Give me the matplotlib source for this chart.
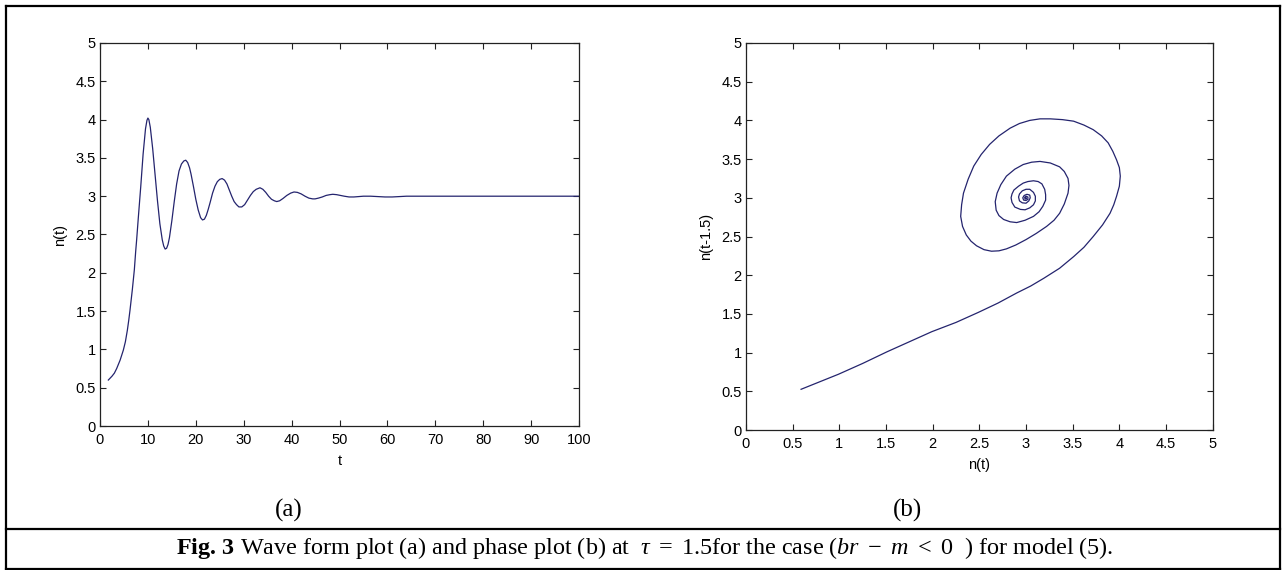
import matplotlib
matplotlib.use('Agg')
import matplotlib.pyplot as plt
from matplotlib.lines import Line2D
from matplotlib.ticker import FuncFormatter

# ---------------- data ----------------
# (a) wave form n(t)
t_vals = [1.74, 2.5, 3.0, 3.48, 4.2, 4.87, 5.3, 5.71, 6.0, 6.26, 6.75, 7.17, 7.45, 7.65,
          8.0, 8.5, 9.0, 9.5, 9.8, 10.0, 10.2, 10.5, 11.0, 11.5, 12.0, 12.5, 13.0, 13.3,
          13.6, 13.9, 14.2, 14.5, 15.0, 15.5, 16.0, 16.5, 17.0, 17.5, 17.9, 18.3, 18.7,
          19.0, 19.5, 20.0, 20.5, 21.0, 21.4, 21.8, 22.2, 22.6, 23.0, 23.5, 24.0, 24.5,
          25.0, 25.5, 26.0, 26.5, 27.0, 27.5, 28.0, 28.5, 29.0, 29.6, 30.2, 30.8, 31.4,
          32.0, 32.6, 33.4, 34.0, 34.6, 35.2, 35.8, 36.4, 36.9, 37.5, 38.2, 39.0, 39.8,
          40.5, 41.2, 42.0, 42.8, 43.6, 44.4, 44.9, 45.6, 46.4, 47.2, 48.0, 48.6, 49.4,
          50.2, 51.0, 52.0, 53.0, 54.0, 55.0, 56.5, 58.0, 59.5, 61.0, 62.5, 64.0, 66.0,
          70.0, 80.0, 90.0, 100.0]
n_vals = [0.60, 0.65, 0.69, 0.75, 0.86, 0.99, 1.10, 1.25, 1.38, 1.51, 1.78, 2.04, 2.28, 2.43,
          2.72, 3.12, 3.55, 3.88, 3.99, 4.02, 4.00, 3.90, 3.62, 3.28, 2.94, 2.64, 2.43, 2.35,
          2.31, 2.32, 2.37, 2.46, 2.68, 2.93, 3.16, 3.33, 3.42, 3.46, 3.47, 3.44, 3.37,
          3.29, 3.13, 2.96, 2.82, 2.72, 2.69, 2.70, 2.75, 2.83, 2.92, 3.04, 3.13, 3.19,
          3.22, 3.23, 3.21, 3.16, 3.08, 3.00, 2.93, 2.89, 2.86, 2.86, 2.89, 2.95, 3.01,
          3.06, 3.09, 3.11, 3.09, 3.05, 3.00, 2.96, 2.94, 2.93, 2.94, 2.97, 3.01, 3.04,
          3.055, 3.05, 3.03, 3.00, 2.975, 2.965, 2.965, 2.975, 2.99, 3.01, 3.02, 3.025, 3.02,
          3.01, 3.00, 2.99, 2.99, 2.995, 3.00, 3.00, 2.995, 2.99, 2.99, 2.995, 3.00, 3.00,
          3.00, 3.00, 3.00, 3.00]

# (b) phase plot: n(t) against n(t-1.5)
phase_x = [0.59, 0.99, 1.25, 1.51, 1.75, 1.99, 2.25, 2.49, 2.70, 2.90, 3.05, 3.19,
           3.36, 3.51, 3.62, 3.72, 3.82, 3.90, 3.94, 3.97, 4.00, 4.01, 4.00, 3.97, 3.93,
           3.88, 3.81, 3.72, 3.62, 3.51, 3.39, 3.26, 3.15, 3.04, 2.93, 2.83, 2.71, 2.61,
           2.52, 2.44, 2.38, 2.33, 2.31, 2.30, 2.32, 2.36, 2.41, 2.47, 2.55, 2.63, 2.71,
           2.79, 2.89, 3.00, 3.11, 3.22, 3.30, 3.36, 3.41, 3.45, 3.46, 3.45, 3.41, 3.36,
           3.26, 3.15, 3.06, 2.97, 2.88, 2.79, 2.73, 2.69, 2.67, 2.68, 2.71, 2.76, 2.83,
           2.90, 2.99, 3.08, 3.14, 3.18, 3.21, 3.21, 3.20, 3.17, 3.13, 3.08, 3.02, 2.97,
           2.92, 2.87, 2.85, 2.84, 2.85, 2.88, 2.94, 2.99, 3.04, 3.08, 3.10, 3.10, 3.08,
           3.04, 3.00, 2.96, 2.93, 2.92, 2.93, 2.96, 3.00, 3.03, 3.045, 3.04, 3.01, 2.98,
           2.965, 2.975, 3.00, 3.02, 3.02, 3.00, 2.985, 2.99, 3.005, 3.00]
phase_y = [0.526, 0.72, 0.86, 1.01, 1.14, 1.27, 1.39, 1.52, 1.64, 1.77, 1.86, 1.96,
           2.09, 2.24, 2.36, 2.50, 2.65, 2.80, 2.91, 3.02, 3.15, 3.28, 3.39, 3.49, 3.60,
           3.71, 3.80, 3.88, 3.94, 3.99, 4.01, 4.02, 4.02, 4.00, 3.96, 3.90, 3.80, 3.69,
           3.56, 3.41, 3.24, 3.06, 2.91, 2.76, 2.63, 2.52, 2.44, 2.38, 2.33, 2.31, 2.315,
           2.34, 2.39, 2.46, 2.54, 2.63, 2.71, 2.80, 2.92, 3.06, 3.16, 3.25, 3.34, 3.40,
           3.45, 3.47, 3.46, 3.43, 3.37, 3.28, 3.17, 3.06, 2.95, 2.84, 2.77, 2.72, 2.69,
           2.68, 2.71, 2.76, 2.82, 2.89, 2.97, 3.04, 3.11, 3.18, 3.21, 3.22, 3.21, 3.19,
           3.15, 3.10, 3.05, 3.00, 2.94, 2.88, 2.85, 2.845, 2.87, 2.91, 2.96, 3.02, 3.07,
           3.11, 3.11, 3.09, 3.05, 3.01, 2.96, 2.935, 2.93, 2.96, 3.00, 3.035, 3.045, 3.03,
           3.00, 2.97, 2.965, 2.98, 3.01, 3.02, 3.005, 2.985, 2.99, 3.00]

wave_ticks_x = [0, 10, 20, 30, 40, 50, 60, 70, 80, 90, 100]
level_ticks = [0, 0.5, 1, 1.5, 2, 2.5, 3, 3.5, 4, 4.5, 5]
caption = (r"$\mathbf{Fig.\,3}$ Wave form plot (a) and phase plot (b) at  "
           r"$\tau\ =\ 1.5$for the case ($br\ -\ m\ <\ 0$  ) for model (5).")

# ---------------- figure ----------------
plt.rcParams['font.family'] = ['Liberation Sans Narrow', 'Liberation Sans', 'DejaVu Sans']
plt.rcParams['mathtext.fontset'] = 'custom'
plt.rcParams['mathtext.rm'] = 'Liberation Serif'
plt.rcParams['mathtext.it'] = 'Liberation Serif:italic'
plt.rcParams['mathtext.bf'] = 'Liberation Serif:bold'
plt.rcParams['mathtext.fallback'] = 'stix'

W, H = 1283, 570
fig = plt.figure(figsize=(W / 100, H / 100), dpi=100)
fig.patch.set_facecolor('white')


def rect(x0, y0, x1, y1):
    return [x0 / W, 1 - y1 / H, (x1 - x0) / W, (y1 - y0) / H]


ax1 = fig.add_axes(rect(100, 43, 579, 426))
ax2 = fig.add_axes(rect(746, 43, 1212.7, 430))

line_col = '#24246e'
fmt = FuncFormatter(lambda v, p: '%g' % v)

ax1.plot(t_vals, n_vals, color=line_col, lw=0.9)
ax1.set_xlim(0, 100)
ax1.set_ylim(0, 5)
ax1.set_xticks(wave_ticks_x)
ax1.set_yticks(level_ticks)
ax1.set_xlabel('t', fontsize=10.5, labelpad=5)
ax1.set_ylabel('n(t)', fontsize=10.5, labelpad=6)

ax2.plot(phase_x, phase_y, color=line_col, lw=0.9)
ax2.set_xlim(0, 5)
ax2.set_ylim(0, 5)
ax2.set_xticks(level_ticks)
ax2.set_yticks(level_ticks)
ax2.set_xlabel('n(t)', fontsize=10.5, labelpad=5)
ax2.set_ylabel('n(t-1.5)', fontsize=10.5, labelpad=6)

for ax in (ax1, ax2):
    ax.xaxis.set_major_formatter(fmt)
    ax.yaxis.set_major_formatter(fmt)
    ax.tick_params(direction='in', top=True, right=True, length=4, width=0.8,
                   labelsize=10.5, color='#222222')
    ax.tick_params(axis='x', pad=5)
    ax.tick_params(axis='y', pad=3)
    for s in ax.spines.values():
        s.set_linewidth(0.9)
        s.set_color('#222222')

# panel labels
fig.text(289 / W, 1 - 510 / H, '(a)', ha='center', va='center',
         fontsize=18, family='Liberation Serif')
fig.text(908 / W, 1 - 510 / H, '(b)', ha='center', va='center',
         fontsize=18, family='Liberation Serif')

# caption
fig.text(176 / W, 1 - 548 / H, caption, ha='left', va='center',
         fontsize=17.4, family='Liberation Serif')

# table frame
frame = [([6, 1280], [6, 6]), ([6, 6], [6, 570]), ([1280, 1280], [6, 570]),
         ([6, 1280], [529, 529]), ([6, 1280], [569, 569])]
for xs, ys in frame:
    fig.add_artist(Line2D([x / W for x in xs], [1 - y / H for y in ys],
                          transform=fig.transFigure, color='black', lw=1.6))

fig.savefig('out.png', dpi=100)
